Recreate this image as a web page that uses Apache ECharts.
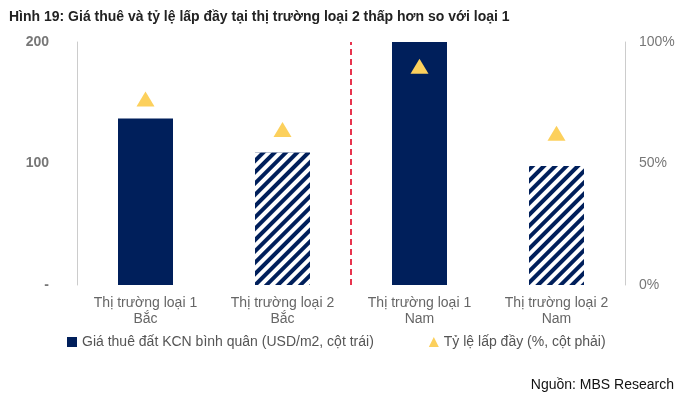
<!DOCTYPE html>
<html><head><meta charset="utf-8">
<script src="https://cdn.jsdelivr.net/npm/echarts@6/dist/echarts.min.js"></script>
<style>body{margin:0}#c{width:700px;height:406px}</style>
</head><body><div id="c"></div>
<script>
var categories = ['Thị trường loại 1\nBắc', 'Thị trường loại 2\nBắc', 'Thị trường loại 1\nNam', 'Thị trường loại 2\nNam'];
var rentValues = [137, 109, 200, 98];
var occupancyValues = [76.5, 64, 90, 62.5];
var hatched = [false, true, false, true];

var navy = '#001f5b';
var chart = echarts.init(document.getElementById('c'));

var barData = rentValues.map(function (v, i) {
    var d = { value: v };
    if (hatched[i]) {
        d.itemStyle = {
            color: navy,
            decal: { symbol: 'rect', color: '#fff', dashArrayX: [1, 0], dashArrayY: [4, 4], rotation: -Math.PI / 4, symbolSize: 1 }
        };
    }
    return d;
});

chart.setOption({
    animation: false,
    title: {
        text: 'Hình 19: Giá thuê và tỷ lệ lấp đầy tại thị trường loại 2 thấp hơn so với loại 1',
        left: 4, top: 5,
        textStyle: { fontFamily: 'Liberation Sans', fontSize: 14, fontWeight: 'bold', color: '#222' }
    },
    graphic: [{
        type: 'text', right: 26, top: 378,
        style: { text: 'Nguồn: MBS Research', font: '14px Liberation Sans', fill: '#111' }
    }],
    legend: {
        bottom: 52, left: 62, itemGap: 55, itemWidth: 10, itemHeight: 10,
        textStyle: { fontFamily: 'Liberation Sans', fontSize: 14, color: '#555' },
        data: [
            { name: 'Giá thuê đất KCN bình quân (USD/m2, cột trái)', icon: 'rect' },
            { name: 'Tỷ lệ lấp đầy (%, cột phải)', icon: 'triangle' }
        ]
    },
    grid: { left: 77, right: 75, top: 42, bottom: 121 },
    xAxis: [{
        type: 'category', data: categories,
        axisLine: { show: false }, axisTick: { show: false },
        axisLabel: { interval: 0, margin: 10, lineHeight: 16, fontFamily: 'Liberation Sans', fontSize: 14, color: '#666' }
    }, {
        type: 'value', min: 0, max: 4, show: false
    }],
    yAxis: [{
        type: 'value', min: 0, max: 200, interval: 100,
        splitLine: { show: false },
        axisLine: { show: true, lineStyle: { color: '#ccc' } }, axisTick: { show: false },
        axisLabel: { margin: 28, fontFamily: 'Liberation Sans', fontSize: 14, fontWeight: 'bold', color: '#777',
            formatter: function (v) { return v === 0 ? '-' : v; } }
    }, {
        type: 'value', min: 0, max: 100, interval: 50,
        splitLine: { show: false },
        axisLine: { show: true, lineStyle: { color: '#ccc' } }, axisTick: { show: false },
        axisLabel: { margin: 14, fontFamily: 'Liberation Sans', fontSize: 14, color: '#777', formatter: '{value}%' }
    }],
    series: [{
        name: 'Giá thuê đất KCN bình quân (USD/m2, cột trái)',
        type: 'bar', barWidth: 55, data: barData,
        itemStyle: { color: navy }
    }, {
        name: 'Tỷ lệ lấp đầy (%, cột phải)',
        type: 'scatter', yAxisIndex: 1, symbol: 'triangle', symbolSize: [18, 15],
        itemStyle: { color: '#fcd05c', opacity: 1 }, data: occupancyValues
    }, {
        type: 'line', xAxisIndex: 1, data: [], silent: true,
        markLine: {
            symbol: 'none', silent: true, label: { show: false },
            lineStyle: { color: '#e8344e', type: [6, 4], width: 2 },
            data: [{ xAxis: 2 }]
        }
    }]
});
</script></body></html>
